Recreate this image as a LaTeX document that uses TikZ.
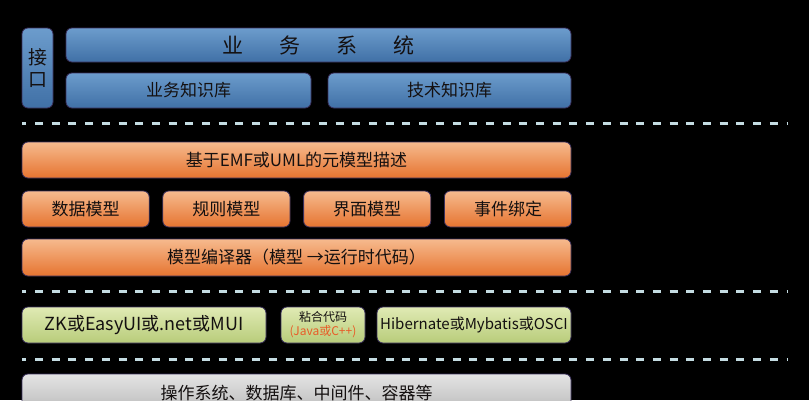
\documentclass[tikz,border=0pt]{standalone}
\usepackage{fontspec}
\setmainfont{Noto Sans CJK SC}
\usepackage{tikz}
\definecolor{bluetop}{RGB}{108,156,204}
\definecolor{bluebot}{RGB}{64,112,166}
\definecolor{orangetop}{RGB}{246,186,142}
\definecolor{orangebot}{RGB}{230,116,48}
\definecolor{greentop}{RGB}{224,234,180}
\definecolor{greenbot}{RGB}{184,204,122}
\definecolor{graytop}{RGB}{228,228,228}
\definecolor{graybot}{RGB}{186,186,186}
\definecolor{edge}{RGB}{58,48,92}
\definecolor{ink}{RGB}{20,16,16}
\definecolor{javared}{RGB}{232,92,40}
\definecolor{dashcol}{RGB}{196,220,226}
\usetikzlibrary{positioning,backgrounds}
\tikzstyle{layer}=[draw=edge,line width=0.8pt,rounded corners=6pt,inner sep=0pt,
  minimum height=36pt,text=ink,font=\fontsize{17}{20}\selectfont]
\tikzstyle{bluelayer}=[layer,top color=bluetop,bottom color=bluebot]
\tikzstyle{orangelayer}=[layer,top color=orangetop,bottom color=orangebot]
\tikzstyle{greenlayer}=[layer,top color=greentop,bottom color=greenbot]
\tikzstyle{graylayer}=[layer,top color=graytop,bottom color=graybot]
\tikzstyle{divider}=[draw=dashcol,line width=3pt,dash pattern=on 8pt off 8.7pt,
  dash phase=3.7pt]

\begin{document}
\begin{tikzpicture}[x=1pt, y=-1pt, node distance=12.8pt]
  \fill[black] (0,0) rectangle (809,400);
  \clip (0,0) rectangle (809,400);

  % business layer
  \node[bluelayer, minimum width=31pt, minimum height=80pt, align=center,
    font=\fontsize{19}{22}\selectfont] (iface) at (37.5,68) {接\\口};
  \node[bluelayer, minimum width=505pt, minimum height=34pt,
    font=\fontsize{21}{24}\selectfont] (sys) at (318.5,45)
    {业\hspace{36pt}务\hspace{36pt}系\hspace{36pt}统};
  \node[bluelayer, minimum width=245pt, minimum height=35pt] (bizkb) at (188.5,90.5) {业务知识库};
  \node[bluelayer, minimum width=243pt, minimum height=35pt, right=16.2pt of bizkb] (techkb) {技术知识库};

  \coordinate (d1a) at (22,123);
  \coordinate (d1b) at (787,123);
  \draw[divider] (d1a) -- (d1b);

  % model layer
  \node[orangelayer, minimum width=549pt] (meta) at (296.5,160) {基于EMF或UML的元模型描述};
  \node[orangelayer, minimum width=127.2pt] (data) at (85.6,209) {数据模型};
  \node[orangelayer, minimum width=127.2pt, right=of data] (rule) {规则模型};
  \node[orangelayer, minimum width=127.2pt, right=of rule] (ui) {界面模型};
  \node[orangelayer, minimum width=127.2pt, right=of ui] (event) {事件绑定};
  \node[orangelayer, minimum width=549pt, minimum height=37pt] (comp) at (296.5,257.5)
    {模型编译器（模型 →运行时代码）};

  \coordinate (d2a) at (22,291);
  \coordinate (d2b) at (787,291);
  \draw[divider] (d2a) -- (d2b);

  % runtime layer
  \node[greenlayer, minimum width=244pt, font=\fontsize{18}{21}\selectfont] (zk) at (144,325)
    {ZK或EasyUI或.net或MUI};
  \node[greenlayer, minimum width=84pt, right=14.2pt of zk, align=center,
    font=\fontsize{12}{14}\selectfont] (glue) {粘合代码\\\textcolor{javared}{(Java或C++)}};
  \node[greenlayer, minimum width=194pt, right=11.2pt of glue,
    font=\fontsize{15}{18}\selectfont] (orm) {Hibernate或Mybatis或OSCI};

  \coordinate (d3a) at (22,359);
  \coordinate (d3b) at (787,359);
  \draw[divider] (d3a) -- (d3b);

  \node[graylayer, minimum width=549pt, minimum height=38pt] (base) at (296.5,393)
    {操作系统、数据库、中间件、容器等};
\end{tikzpicture}
\end{document}
